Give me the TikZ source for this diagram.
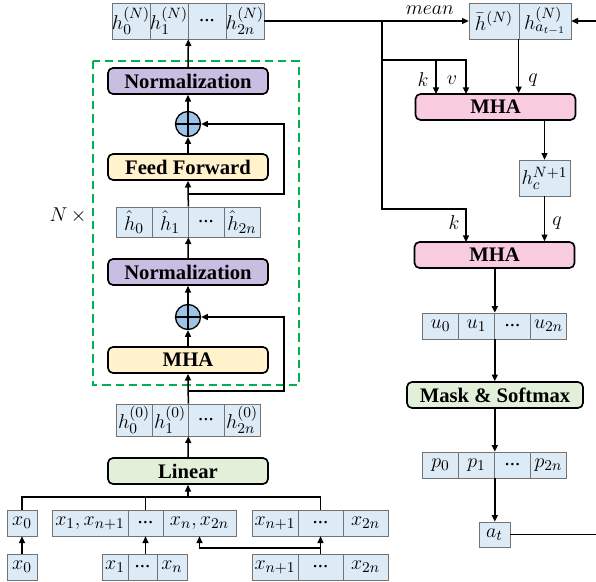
\documentclass[tikz,border=0pt]{standalone}
\usepackage{fontspec}
\setmainfont{Liberation Serif}
\usetikzlibrary{arrows.meta}

\definecolor{cellblue}{RGB}{221,235,247}
\definecolor{normpurple}{RGB}{200,190,226}
\definecolor{ffyellow}{RGB}{255,242,204}
\definecolor{lingreen}{RGB}{226,240,217}
\definecolor{mhapink}{RGB}{248,203,222}
\definecolor{plusblue}{RGB}{157,195,230}
\definecolor{dashgreen}{RGB}{0,176,80}

\begin{document}
\begin{tikzpicture}[x=0.6pt,y=-0.6pt]
\tikzstyle{cell}=[draw=black!55, fill=cellblue, inner sep=0pt,
                        minimum height=15.6pt, font=\fontsize{12.5}{14}\selectfont]
\tikzstyle{blk}=[draw, line width=1pt, rounded corners=3pt, inner sep=0pt,
                        minimum width=96pt, minimum height=15.6pt, font=\fontsize{12.4}{14}\selectfont\bfseries]
\tikzstyle{plus}=[circle, draw, line width=0.8pt, fill=plusblue, inner sep=0pt, minimum size=15pt,
                        path picture={\draw[line width=0.8pt] (path picture bounding box.north) -- (path picture bounding box.south)
                        (path picture bounding box.west) -- (path picture bounding box.east);}]
\tikzstyle{arr}=[-{Triangle[length=4pt,width=3.6pt]}, line width=0.9pt]
\tikzstyle{wire}=[line width=0.9pt]
\tikzstyle{lab}=[font=\fontsize{12}{14}\selectfont]
\useasboundingbox (0,0) rectangle (596,582);
\clip (0,0) rectangle (596,582);

% encoder
	\node[cell, minimum width=22.8pt, minimum height=21.6pt] (hN0) at (131,21){$h_0^{(N)}$};
	\node[cell, minimum width=22.8pt, minimum height=21.6pt] (hN1) at (169,21){$h_1^{(N)}$};
	\node[cell, minimum width=22.8pt, minimum height=21.6pt] (hN2) at (207,21){...};
	\node[cell, minimum width=22.8pt, minimum height=21.6pt] (hN3) at (245,21){$h_{2n}^{(N)}$};
\draw[dashgreen, line width=1.2pt, dash pattern=on 5pt off 3pt] (93,61) rectangle (299,385);
	\node[lab] (Nx) at (68,215){$N\,\times$};
	\node[blk, fill=normpurple] (normTop) at (188,81){Normalization};
	\node[plus] (plusTop) at (188,124){};
	\node[blk, fill=ffyellow] (ff) at (188,167){Feed Forward};
	\node[cell, minimum width=21.6pt, minimum height=18pt] (hh0) at (134,222){$\hat{h}_0$};
	\node[cell, minimum width=21.6pt, minimum height=18pt] (hh1) at (170,222){$\hat{h}_1$};
	\node[cell, minimum width=21.6pt, minimum height=18pt] (hh2) at (206,222){...};
	\node[cell, minimum width=21.6pt, minimum height=18pt] (hh3) at (242,222){$\hat{h}_{2n}$};
	\node[blk, fill=normpurple] (normMid) at (188,272){Normalization};
	\node[plus] (plusBot) at (188,317){};
	\node[blk, fill=ffyellow] (mhaL) at (188,360){MHA};
	\node[cell, minimum width=21.6pt, minimum height=19.2pt] (h00) at (134,420){$h_0^{(0)}$};
	\node[cell, minimum width=21.6pt, minimum height=19.2pt] (h01) at (170,420){$h_1^{(0)}$};
	\node[cell, minimum width=21.6pt, minimum height=19.2pt] (h02) at (206,420){...};
	\node[cell, minimum width=21.6pt, minimum height=19.2pt] (h03) at (242,420){$h_{2n}^{(0)}$};
	\node[blk, fill=lingreen] (lin) at (188,471){Linear};
% inputs
	\node[cell, minimum width=18pt] (xa0) at (22,523){$x_0$};
	\node[cell, minimum width=45.6pt] (xm0) at (90,523){$x_1, x_{n+1}$};
	\node[cell, minimum width=21pt] (xm1) at (145.5,523){...};
	\node[cell, minimum width=43.8pt] (xm2) at (199.5,523){$x_n, x_{2n}$};
	\node[cell, minimum width=27.6pt] (xr0) at (275,523){$x_{n+1}$};
	\node[cell, minimum width=27pt] (xr1) at (320.5,523){...};
	\node[cell, minimum width=27pt] (xr2) at (365.5,523){$x_{2n}$};
	\node[cell, minimum width=18pt] (ya0) at (22,567){$x_0$};
	\node[cell, minimum width=15.6pt] (yb0) at (115,567){$x_1$};
	\node[cell, minimum width=17.4pt] (yb1) at (142.5,567){...};
	\node[cell, minimum width=18pt] (yb2) at (172,567){$x_n$};
	\node[cell, minimum width=27.6pt] (yc0) at (275,567){$x_{n+1}$};
	\node[cell, minimum width=27pt] (yc1) at (320.5,567){...};
	\node[cell, minimum width=27pt] (yc2) at (365.5,567){$x_{2n}$};
% decoder
	\node[cell, minimum width=30pt, minimum height=21.6pt] (hb0) at (494,21){$\bar{h}^{(N)}$};
	\node[cell, minimum width=31.2pt, minimum height=21.6pt] (hb1) at (545,21){$h_{a_{t-1}}^{(N)}$};
	\node[blk, fill=mhapink] (mhaR1) at (495.5,107){MHA};
	\node[cell, minimum width=30.6pt, minimum height=21.6pt] (hc) at (544.5,178){$h_c^{N+1}$};
	\node[blk, fill=mhapink] (mhaR2) at (494.5,255){MHA};
	\node[cell, minimum width=21.6pt] (u0) at (440.5,326){$u_0$};
	\node[cell, minimum width=21.6pt] (u1) at (476.5,326){$u_1$};
	\node[cell, minimum width=21.6pt] (u2) at (512.5,326){...};
	\node[cell, minimum width=21.6pt] (u3) at (548.5,326){$u_{2n}$};
	\node[blk, fill=lingreen, minimum width=105.6pt] (mask) at (495,395){Mask \& Softmax};
	\node[cell, minimum width=21.6pt] (p0) at (440.5,465){$p_0$};
	\node[cell, minimum width=21.6pt] (p1) at (476.5,465){$p_1$};
	\node[cell, minimum width=21.6pt] (p2) at (512.5,465){...};
	\node[cell, minimum width=21.6pt] (p3) at (548.5,465){$p_{2n}$};
	\node[cell, minimum width=18.6pt, minimum height=15pt] (at) at (494.5,534.5){$a_t$};
	\node[lab] (lk1) at (423,80){$k$};
	\node[lab] (lv1) at (452,80){$v$};
	\node[lab] (lq1) at (533,80){$q$};
	\node[lab] (lk2) at (454,223){$k$};
	\node[lab] (lq2) at (557,223){$q$};

% encoder wires
\coordinate (r1) at (188,194); \coordinate (r1c) at (284,194);
\coordinate (r2) at (188,391); \coordinate (r2c) at (284,391);
\coordinate (bus) at (188,497);
\coordinate (sp) at (320.5,548);
\draw[arr] (normTop.north) -- (hN1.south east);
\draw[arr] (plusTop.north) -- (normTop.south);
\draw[arr] (ff.north) -- (plusTop.south);
\draw[arr] (hh1.north east) -- (ff.south);
\draw[arr] (r1) -- (r1c) |- (plusTop.east);
\draw[arr] (normMid.north) -- (hh1.south east);
\draw[arr] (plusBot.north) -- (normMid.south);
\draw[arr] (mhaL.north) -- (plusBot.south);
\draw[arr] (h01.north east) -- (mhaL.south);
\draw[arr] (r2) -- (r2c) |- (plusBot.east);
\draw[arr] (lin.north) -- (h01.south east);
\draw[wire] (xa0.north) |- (bus) -| (xr1.north);
\draw[wire] (xm1.north) -- (xm1.north |- bus);
\draw[arr] (bus) -- (lin.south);
\draw[arr] (ya0.north) -- (xa0.south);
\draw[arr] (xm1.south |- yb1.north) -- (xm1.south);
\draw[arr] (yc1.north) -- (xr1.south);
\draw[arr] (sp) -| (xm2.south);

% decoder wires
\coordinate (s1) at (382,21); \coordinate (s2) at (382,60); \coordinate (s3) at (382,209);
\coordinate (kin) at (436,94); \coordinate (vin) at (466,94); \coordinate (k2in) at (466,242);
\coordinate (rc) at (602,534.5);
\draw[arr] (hN3.east) -- (hb0.west) node[lab, above, pos=0.81]{$mean$};
\draw[arr] (s1) -- (s3) -| (k2in);
\draw[arr] (s2) -| (kin);
\draw[arr] (s2) -| (vin);
\draw[arr] (hb1.south west) -- (hb1.south west |- mhaR1.north);
\draw[arr] (mhaR1.south -| hc.north) -- (hc.north);
\draw[arr] (hc.south) -- (hc.south |- mhaR2.north);
\draw[arr] (mhaR2.south -| u1.north east) -- (u1.north east);
\draw[arr] (u1.south east) -- (u1.south east |- mask.north);
\draw[arr] (mask.south -| p1.north east) -- (p1.north east);
\draw[arr] (p1.south east) -- (p1.south east |- at.north);
\draw[arr] (at.east) -- (rc) |- (hb1.east);
\end{tikzpicture}
\end{document}
